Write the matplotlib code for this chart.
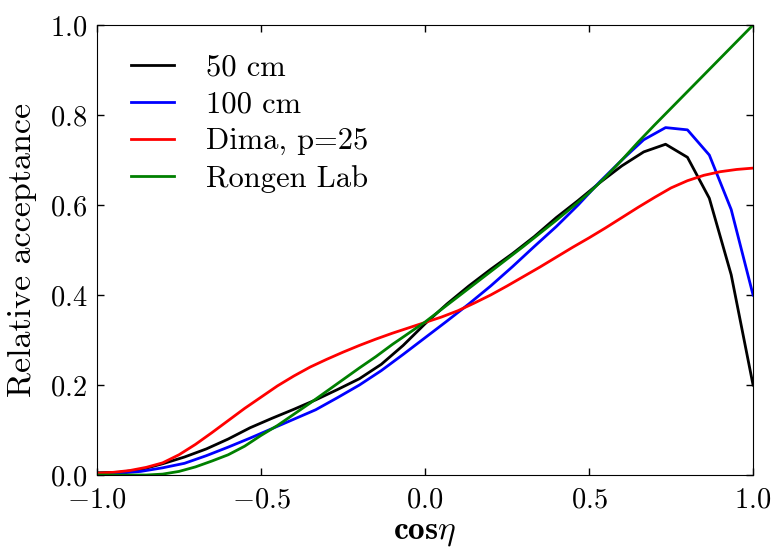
import numpy as np
import matplotlib
matplotlib.use('Agg')
import matplotlib.pyplot as plt
from matplotlib.ticker import FuncFormatter

plt.rcParams['mathtext.fontset'] = 'cm'
plt.rcParams['font.family'] = 'cmr10'
plt.rcParams['axes.unicode_minus'] = True

# binned acceptance curves, 31 points from -1 to 1
x_bins = np.linspace(-1, 1, 31)
acc_50cm = [0.005, 0.006, 0.012, 0.025, 0.040, 0.058, 0.080, 0.105, 0.126, 0.146,
            0.167, 0.190, 0.214, 0.246, 0.288, 0.336, 0.380, 0.420, 0.457, 0.492,
            0.530, 0.572, 0.610, 0.650, 0.687, 0.718, 0.735, 0.706, 0.615, 0.445, 0.200]
acc_100cm = [0.003, 0.004, 0.008, 0.016, 0.026, 0.043, 0.062, 0.082, 0.103, 0.124,
             0.145, 0.172, 0.200, 0.232, 0.268, 0.305, 0.342, 0.380, 0.420, 0.463,
             0.508, 0.552, 0.600, 0.652, 0.700, 0.745, 0.772, 0.767, 0.711, 0.590, 0.400]

# smooth curves, read every 0.05
x_fine = np.linspace(-1, 1, 41)
acc_rongen = [0.000, 0.000, 0.000, 0.000, 0.002, 0.008, 0.018, 0.031, 0.045, 0.064,
              0.088, 0.110, 0.135, 0.160, 0.186, 0.212, 0.238, 0.263, 0.290, 0.315,
              0.340, 0.368, 0.396, 0.424, 0.452, 0.480, 0.508, 0.537, 0.566, 0.596,
              0.627, 0.662, 0.700, 0.740, 0.778, 0.815, 0.852, 0.889, 0.926, 0.963, 1.000]
acc_dima = [0.004, 0.006, 0.010, 0.017, 0.027, 0.045, 0.068, 0.094, 0.121, 0.148,
            0.173, 0.198, 0.220, 0.240, 0.257, 0.273, 0.288, 0.302, 0.315, 0.327,
            0.339, 0.351, 0.365, 0.382, 0.400, 0.420, 0.441, 0.462, 0.484, 0.506,
            0.527, 0.549, 0.572, 0.595, 0.617, 0.638, 0.654, 0.666, 0.674, 0.679, 0.682]

fig = plt.figure(figsize=(7.73, 5.47), dpi=100)
ax = fig.add_axes([0.1255, 0.1316, 0.8487, 0.8227])

ax.plot(x_bins, acc_50cm, color='k', lw=2, label='50 cm')
ax.plot(x_bins, acc_100cm, color='b', lw=2, label='100 cm')
ax.plot(x_fine, acc_dima, color='r', lw=2, label='Dima, p=25')
ax.plot(x_fine, acc_rongen, color='g', lw=2, label='Rongen Lab')

ax.set_xlim(-1, 1)
ax.set_ylim(0, 1)
ax.set_xticks([-1.0, -0.5, 0.0, 0.5, 1.0])
ax.set_yticks([0.0, 0.2, 0.4, 0.6, 0.8, 1.0])
fmt = FuncFormatter(lambda v, p: r'$%.1f$' % v)
ax.xaxis.set_major_formatter(fmt)
ax.yaxis.set_major_formatter(fmt)
ax.tick_params(direction='in', top=True, right=True, length=5, width=1,
               labelsize=20.5, pad=7)
ax.tick_params(axis='x', pad=9)

ax.set_xlabel(r'$\mathbf{cos}\eta$', fontsize=24, labelpad=4)
ax.set_ylabel('Relative acceptance', fontsize=24.5, labelpad=9)

ax.legend(loc='upper left', bbox_to_anchor=(0.008, 1.0), frameon=False,
          fontsize=22, handlelength=1.4, handletextpad=1.05,
          labelspacing=0.31, borderaxespad=0.55)

fig.savefig('out.png', dpi=100)
